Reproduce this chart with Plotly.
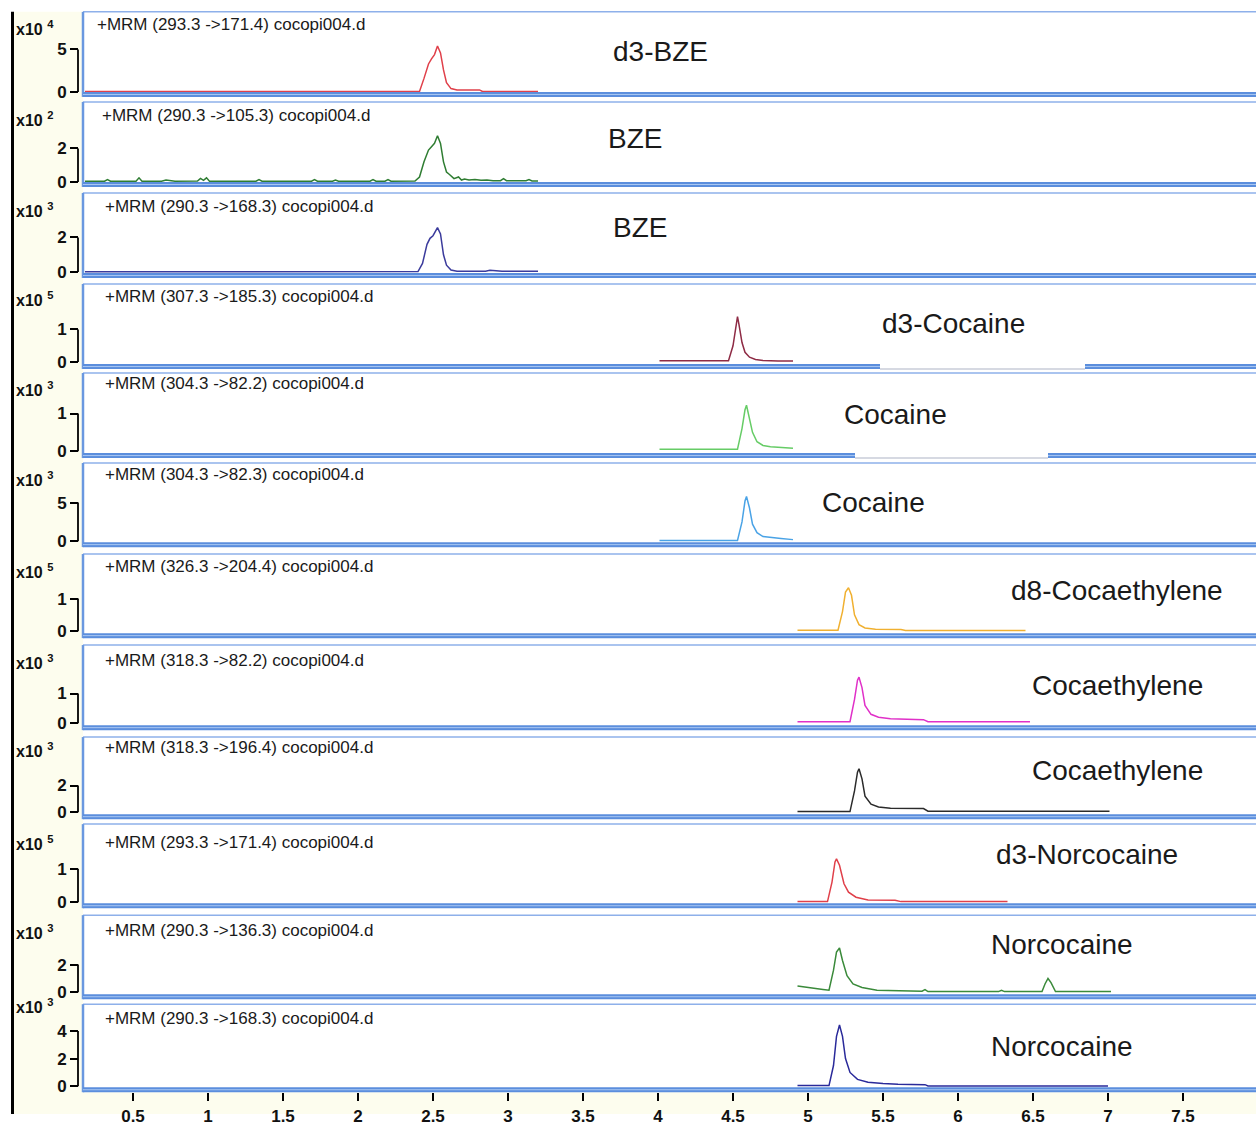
import plotly.graph_objects as go

W, H = 1256, 1126

# ---- data (retention time in min, abundance in units of the panel's x10^n) ----
rt_d3_bze = [0.18, 2.41, 2.44, 2.47, 2.49, 2.51, 2.53, 2.55, 2.57, 2.59, 2.62, 2.66, 2.81, 2.83, 3.20]
ab_d3_bze = [0.05, 0.05, 1.6, 3.3, 3.9, 4.4, 5.4, 4.6, 2.6, 1.1, 0.4, 0.25, 0.25, 0.06, 0.06]

rt_bze_105 = [0.18, 0.31, 0.33, 0.35, 0.52, 0.54, 0.56, 0.69, 0.72, 0.75, 0.78, 0.93, 0.95, 0.97,
              0.99, 1.01, 1.32, 1.34, 1.36, 1.69, 1.71, 1.73, 1.83, 1.85, 1.87, 2.08, 2.10, 2.12,
              2.18, 2.20, 2.22, 2.38, 2.41, 2.44, 2.47, 2.49, 2.51, 2.53, 2.55, 2.57, 2.59, 2.61,
              2.64, 2.67, 2.69, 2.71, 2.74, 2.78, 2.82, 2.86, 2.90, 2.95, 2.97, 2.99, 3.12, 3.14,
              3.16, 3.20]
ab_bze_105 = [0.05, 0.05, 0.15, 0.05, 0.05, 0.25, 0.05, 0.05, 0.12, 0.1, 0.05, 0.06, 0.22, 0.1,
              0.25, 0.05, 0.05, 0.15, 0.05, 0.05, 0.15, 0.05, 0.05, 0.12, 0.05, 0.05, 0.15, 0.05,
              0.05, 0.15, 0.05, 0.06, 0.3, 1.2, 1.9, 2.1, 2.3, 2.75, 2.3, 1.2, 0.6, 0.45,
              0.2, 0.3, 0.12, 0.18, 0.12, 0.15, 0.1, 0.12, 0.08, 0.08, 0.2, 0.08, 0.08, 0.15,
              0.06, 0.06]

rt_bze_168 = [0.18, 0.93, 0.95, 0.97, 2.40, 2.43, 2.46, 2.48, 2.50, 2.53, 2.55, 2.57, 2.59, 2.62,
              2.66, 2.85, 2.88, 2.92, 2.96, 3.20]
ab_bze_168 = [0.02, 0.02, 0.06, 0.02, 0.03, 0.5, 1.6, 1.95, 2.1, 2.57, 2.2, 1.0, 0.4, 0.12,
              0.05, 0.05, 0.1, 0.08, 0.05, 0.05]

rt_d3_coc = [4.01, 4.47, 4.50, 4.52, 4.53, 4.54, 4.56, 4.58, 4.61, 4.65, 4.70, 4.80, 4.90]
ab_d3_coc = [0.04, 0.04, 0.5, 1.1, 1.39, 1.15, 0.6, 0.3, 0.15, 0.08, 0.05, 0.03, 0.03]

rt_coc_822 = [4.01, 4.53, 4.56, 4.58, 4.59, 4.61, 4.63, 4.66, 4.70, 4.75, 4.82, 4.90]
ab_coc_822 = [0.05, 0.05, 0.6, 1.1, 1.22, 0.9, 0.5, 0.25, 0.15, 0.12, 0.1, 0.08]

rt_coc_823 = [4.01, 4.53, 4.56, 4.58, 4.59, 4.61, 4.63, 4.66, 4.70, 4.76, 4.82, 4.90]
ab_coc_823 = [0.1, 0.1, 2.5, 5.2, 5.8, 4.3, 2.2, 1.1, 0.6, 0.45, 0.35, 0.2]

rt_d8_ce = [4.93, 5.20, 5.23, 5.25, 5.27, 5.29, 5.31, 5.34, 5.38, 5.45, 5.62, 5.65, 6.45]
ab_d8_ce = [0.03, 0.03, 0.6, 1.2, 1.33, 1.1, 0.5, 0.2, 0.1, 0.06, 0.05, 0.02, 0.02]

rt_ce_822 = [4.93, 5.28, 5.31, 5.33, 5.34, 5.36, 5.38, 5.42, 5.47, 5.55, 5.77, 5.80, 6.48]
ab_ce_822 = [0.05, 0.05, 0.8, 1.45, 1.55, 1.2, 0.6, 0.3, 0.2, 0.15, 0.12, 0.05, 0.05]

rt_ce_1964 = [4.93, 5.28, 5.31, 5.33, 5.34, 5.36, 5.38, 5.42, 5.47, 5.55, 5.77, 5.80, 7.01]
ab_ce_1964 = [0.05, 0.05, 1.6, 3.0, 3.26, 2.5, 1.2, 0.6, 0.4, 0.3, 0.28, 0.08, 0.08]

rt_d3_nor = [4.93, 5.13, 5.16, 5.18, 5.19, 5.21, 5.24, 5.27, 5.32, 5.40, 5.58, 5.62, 6.33]
ab_d3_nor = [0.02, 0.02, 0.6, 1.2, 1.29, 1.1, 0.55, 0.3, 0.15, 0.07, 0.06, 0.02, 0.02]

rt_nor_136 = [4.93, 4.95, 5.00, 5.05, 5.10, 5.14, 5.17, 5.19, 5.21, 5.23, 5.26, 5.30, 5.36, 5.46,
              5.60, 5.76, 5.78, 5.80, 6.27, 6.29, 6.31, 6.56, 6.58, 6.60, 6.62, 6.65, 7.02]
ab_nor_136 = [0.45, 0.42, 0.3, 0.25, 0.2, 0.15, 1.6, 2.9, 3.2, 2.3, 1.2, 0.6, 0.35, 0.15,
              0.1, 0.08, 0.2, 0.05, 0.05, 0.15, 0.05, 0.05, 0.6, 1.0, 0.7, 0.05, 0.05]

rt_nor_168 = [4.93, 5.14, 5.17, 5.19, 5.21, 5.23, 5.25, 5.28, 5.33, 5.40, 5.50, 5.60, 5.78, 5.80, 7.00]
ab_nor_168 = [0.05, 0.05, 1.5, 3.6, 4.43, 3.6, 2.0, 1.0, 0.5, 0.3, 0.2, 0.15, 0.12, 0.03, 0.03]

transitions = ["+MRM (293.3 ->171.4) cocopi004.d", "+MRM (290.3 ->105.3) cocopi004.d",
               "+MRM (290.3 ->168.3) cocopi004.d", "+MRM (307.3 ->185.3) cocopi004.d",
               "+MRM (304.3 ->82.2) cocopi004.d", "+MRM (304.3 ->82.3) cocopi004.d",
               "+MRM (326.3 ->204.4) cocopi004.d", "+MRM (318.3 ->82.2) cocopi004.d",
               "+MRM (318.3 ->196.4) cocopi004.d", "+MRM (293.3 ->171.4) cocopi004.d",
               "+MRM (290.3 ->136.3) cocopi004.d", "+MRM (290.3 ->168.3) cocopi004.d"]
compounds = ["d3-BZE", "BZE", "BZE", "d3-Cocaine", "Cocaine", "Cocaine", "d8-Cocaethylene",
             "Cocaethylene", "Cocaethylene", "d3-Norcocaine", "Norcocaine", "Norcocaine"]
exponents = [4, 2, 3, 5, 3, 3, 5, 3, 3, 5, 3, 3]
y_ticks = [[0, 5], [0, 2], [0, 2], [0, 1], [0, 1], [0, 5], [0, 1], [0, 1], [0, 2], [0, 1], [0, 2], [0, 2, 4]]
x_ticks = [0.5, 1, 1.5, 2, 2.5, 3, 3.5, 4, 4.5, 5, 5.5, 6, 6.5, 7, 7.5]

series = [(rt_d3_bze, ab_d3_bze), (rt_bze_105, ab_bze_105), (rt_bze_168, ab_bze_168),
          (rt_d3_coc, ab_d3_coc), (rt_coc_822, ab_coc_822), (rt_coc_823, ab_coc_823),
          (rt_d8_ce, ab_d8_ce), (rt_ce_822, ab_ce_822), (rt_ce_1964, ab_ce_1964),
          (rt_d3_nor, ab_d3_nor), (rt_nor_136, ab_nor_136), (rt_nor_168, ab_nor_168)]
colors = ["#E0404A", "#2F7D32", "#3B3B9C", "#8E2B45", "#66CC66", "#4AA3E6",
          "#F0B030", "#E030C8", "#2B2B2B", "#E0404A", "#3A8A3A", "#2A2A9A"]

# ---- layout geometry (pixels) ----
panel_top = [12, 103, 195, 287, 377, 468, 560, 652, 745, 833, 925, 1015]
panel_zero = [93, 184, 275, 366, 456, 547, 638, 731, 821, 912, 1003, 1098]
panel_bottom = [98, 189, 281, 373, 463, 553, 645, 738, 828, 918, 1010, 1104]
tick_px = [50, 150, 240, 333, 418, 508, 605, 701, 794, 878, 975, 1042]
exp_y = [28, 120, 212, 302, 393, 484, 577, 669, 758, 852, 942, 1017]
head_x = [95, 100, 103, 103, 103, 103, 103, 103, 103, 103, 103, 103]
head_y = [25, 117, 209, 300, 388, 480, 573, 668, 756, 852, 941, 1029]
name_pos = [(660, 52), (635, 140), (640, 230), (953, 327), (896, 419), (873, 508), (1117, 597),
            (1117, 693), (1117, 779), (1087, 864), (1062, 955), (1062, 1058)]
plot_left = 83
axis_x = 78


def px(p):
    return p / W


def py(p):
    return 1 - p / H


FONT = "Arial, Liberation Sans, sans-serif"
fig = go.Figure()
layout = dict(width=W, height=H, margin=dict(l=0, r=0, t=0, b=0),
              paper_bgcolor="white", plot_bgcolor="white", showlegend=False)
shapes = []
annotations = []

# cream background strips
shapes.append(dict(type="rect", xref="paper", yref="paper", x0=px(12), x1=px(plot_left),
                   y0=0, y1=py(12), fillcolor="#FDFDEE", line_width=0, layer="below"))
shapes.append(dict(type="rect", xref="paper", yref="paper", x0=px(12), x1=1,
                   y0=0, y1=py(1104), fillcolor="#FDFDEE", line_width=0, layer="below"))
shapes.append(dict(type="line", xref="paper", yref="paper", x0=px(12.5), x1=px(12.5),
                   y0=0, y1=py(12), line=dict(color="black", width=3)))

x_range = [(plot_left - 58) / 150, (W - 58) / 150]

for i, ((xs, ys), col) in enumerate(zip(series, colors)):
    n = i + 1
    xa = "x" if n == 1 else f"x{n}"
    ya = "y" if n == 1 else f"y{n}"
    fig.add_trace(go.Scatter(x=xs, y=ys, mode="lines", line=dict(color=col, width=1.5),
                             xaxis=xa, yaxis=ya, hoverinfo="x+y"))
    T, Z, B = panel_top[i], panel_zero[i], panel_bottom[i]
    ppu = (Z - tick_px[i]) / y_ticks[i][-1]
    y_range = [-(B - Z) / ppu, (Z - T) / ppu]
    last = n == len(series)
    layout[f"xaxis{n}" if n > 1 else "xaxis"] = dict(
        domain=[px(plot_left), 1], range=x_range, anchor=ya,
        showgrid=False, zeroline=False, showline=False,
        ticks="outside" if last else "", ticklen=8, tickwidth=1.5, tickcolor="black",
        tickvals=x_ticks if last else [], showticklabels=last,
        ticktext=[f"<b>{t:g}</b>" for t in x_ticks] if last else [],
        tickfont=dict(family=FONT, size=17, color="#111"))
    layout[f"yaxis{n}" if n > 1 else "yaxis"] = dict(
        domain=[py(B), py(T)], range=y_range, anchor="free", position=px(axis_x),
        showgrid=False, zeroline=False, showline=False,
        ticks="outside", ticklen=8, tickwidth=1.5, tickcolor="black",
        tickvals=y_ticks[i], ticktext=[f"<b>{t}</b>" for t in y_ticks[i]],
        tickfont=dict(family=FONT, size=17, color="#111"))
    # y-axis spine from 0 to top tick
    shapes.append(dict(type="line", xref="paper", yref=ya, x0=px(axis_x), x1=px(axis_x),
                       y0=0, y1=y_ticks[i][-1], line=dict(color="black", width=1.8)))
    # panel frame
    shapes.append(dict(type="line", xref="paper", yref="paper", x0=px(plot_left), x1=1,
                       y0=py(T), y1=py(T), line=dict(color="#8EB0EA", width=1.5)))
    shapes.append(dict(type="line", xref="paper", yref="paper", x0=px(plot_left), x1=px(plot_left),
                       y0=py(B), y1=py(T), line=dict(color="#6A98E0", width=2.5)))
    shapes.append(dict(type="line", xref="paper", yref="paper", x0=px(plot_left), x1=1,
                       y0=py(B - 2.5), y1=py(B - 2.5), line=dict(color="#5B8EDD", width=5)))
    shapes.append(dict(type="line", xref="paper", yref="paper", x0=px(plot_left), x1=1,
                       y0=py(B - 2.5), y1=py(B - 2.5), line=dict(color="#A9C7F2", width=1)))
    annotations.append(dict(xref="paper", yref="paper", x=px(14), y=py(exp_y[i]),
                            xanchor="left", yanchor="middle", showarrow=False,
                            text=f"<b>x10 <sup>{exponents[i]}</sup></b>",
                            font=dict(family=FONT, size=16, color="#111")))
    annotations.append(dict(xref="paper", yref="paper", x=px(head_x[i]), y=py(head_y[i]),
                            xanchor="left", yanchor="middle", showarrow=False,
                            text=transitions[i], font=dict(family=FONT, size=17, color="#1a1a1a")))
    annotations.append(dict(xref="paper", yref="paper", x=px(name_pos[i][0]), y=py(name_pos[i][1]),
                            xanchor="center", yanchor="middle", showarrow=False,
                            text=compounds[i], font=dict(family=FONT, size=28, color="#1a1a1a")))

# pasted-over gaps in two frame bands
for (x0, x1, B) in [(880, 1085, 373), (855, 1048, 463)]:
    shapes.append(dict(type="rect", xref="paper", yref="paper", x0=px(x0), x1=px(x1),
                       y0=py(B + 1), y1=py(B - 6), fillcolor="white", line_width=0))
    shapes.append(dict(type="line", xref="paper", yref="paper", x0=px(x0), x1=px(x1),
                       y0=py(B), y1=py(B), line=dict(color="#C9CDD8", width=1.5)))

layout["shapes"] = shapes
layout["annotations"] = annotations
fig.update_layout(**layout)
fig.write_html("out.html", config={"displayModeBar": False},
               post_script="document.body.style.margin='0';"
                           "document.body.style.height='1126px';"
                           "document.body.style.overflow='hidden';"
                           "document.documentElement.style.overflow='hidden';")
